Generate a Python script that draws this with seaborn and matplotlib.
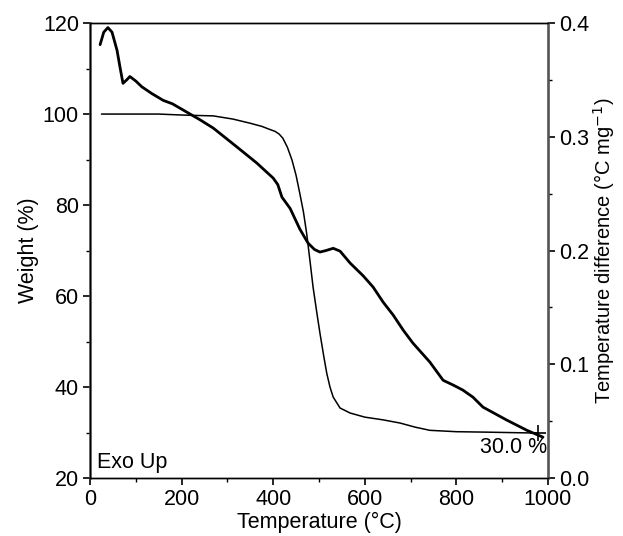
import matplotlib
matplotlib.use("Agg")
import matplotlib.pyplot as plt
import seaborn as sns
import pandas as pd
from matplotlib.ticker import MultipleLocator

# TGA weight curve (left axis)
tga_temp = [25, 60, 100, 150, 197, 230, 269, 312, 349, 375, 393, 404, 413, 421, 431,
            441, 450, 458, 466, 473, 480, 487, 495, 502, 510, 517, 524, 531, 546, 568,
            600, 640, 677, 710, 742, 800, 866, 920, 978]
tga_weight = [100, 100, 100, 100, 99.8, 99.7, 99.6, 98.9, 98.0, 97.3, 96.6, 96.2, 95.6,
              94.7, 92.7, 89.9, 86.5, 82.6, 78.5, 73.8, 68.0, 62.0, 56.5, 51.9, 47.0,
              43.0, 40.0, 37.8, 35.4, 34.3, 33.4, 32.8, 32.1, 31.2, 30.5, 30.2, 30.1,
              30.0, 29.9]

# DTA curve (right axis)
dta_temp = [22, 30, 39, 48, 59, 66, 72, 80, 87, 100, 113, 135, 160, 180, 210, 240, 269,
            321, 364, 400, 410, 419, 437, 458, 476, 490, 502, 515, 531, 546, 568, 596,
            618, 640, 662, 684, 705, 742, 771, 793, 814, 836, 858, 910, 954, 989]
dta_val = [0.381, 0.392, 0.396, 0.392, 0.376, 0.360, 0.347, 0.350, 0.353, 0.349, 0.344,
           0.338, 0.332, 0.329, 0.322, 0.315, 0.3077, 0.291, 0.277, 0.2637, 0.258,
           0.247, 0.237, 0.219, 0.2066, 0.201, 0.1987, 0.200, 0.202, 0.1995, 0.189,
           0.178, 0.168, 0.1547, 0.1433, 0.130, 0.1187, 0.102, 0.086, 0.0818, 0.0774,
           0.0712, 0.0624, 0.051, 0.042, 0.036]

x_ticks = [0, 200, 400, 600, 800, 1000]
y_left_ticks = [20, 40, 60, 80, 100, 120]
y_right_ticks = [0.0, 0.1, 0.2, 0.3, 0.4]

sns.set_style("ticks")
plt.rcParams['font.family'] = ['Liberation Sans', 'DejaVu Sans']
plt.rcParams['text.color'] = 'black'
plt.rcParams['axes.labelcolor'] = 'black'
plt.rcParams['xtick.color'] = 'black'
plt.rcParams['ytick.color'] = 'black'
FS = 15.5

fig = plt.figure(figsize=(6.23, 5.36), dpi=100)
ax = fig.add_axes([0.1445, 0.108, 0.7351, 0.849])
ax2 = ax.twinx()

tga = pd.DataFrame({"T": tga_temp, "W": tga_weight})
dta = pd.DataFrame({"T": dta_temp, "D": dta_val})

sns.lineplot(data=tga, x="T", y="W", ax=ax, color="black", linewidth=1.1)
sns.lineplot(data=dta, x="T", y="D", ax=ax2, color="black", linewidth=2.0)

ax.set_xlim(0, 1000)
ax.set_ylim(20, 120)
ax2.set_ylim(0, 0.4)
ax.set_xticks(x_ticks)
ax.set_yticks(y_left_ticks)
ax2.set_yticks(y_right_ticks)
ax2.set_yticklabels([f"{v:.1f}" for v in y_right_ticks])
ax.xaxis.set_minor_locator(MultipleLocator(100))
ax.yaxis.set_minor_locator(MultipleLocator(10))
ax2.yaxis.set_minor_locator(MultipleLocator(0.05))

for a in (ax, ax2):
    a.tick_params(which="major", direction="out", length=5, width=1.2, labelsize=FS,
                  color="black", labelcolor="black", pad=3)
    a.tick_params(which="minor", direction="out", length=3, width=1.0, color="black")
    for s in a.spines.values():
        s.set_visible(True)
        s.set_color("black")
        s.set_linewidth(1.0)
ax.spines["left"].set_color("#555555")
ax.spines["left"].set_linewidth(1.8)
ax2.spines["right"].set_color("#555555")
ax2.spines["right"].set_linewidth(1.8)

ax.set_xlabel("Temperature (\u00b0C)", fontsize=FS, labelpad=1, color="black")
ax.set_ylabel("Weight (%)", fontsize=FS, labelpad=3, color="black")
ax2.set_ylabel("Temperature difference (\u00b0C mg$^{-1}$)", fontsize=14.5, labelpad=1,
               color="black")

ax.plot([978], [29.9], marker="+", markersize=11, color="black", mew=1.2)
ax.text(998, 26.8, "30.0 %", ha="right", va="center", fontsize=FS, color="black")
ax.text(15, 23.5, "Exo Up", ha="left", va="center", fontsize=FS, color="black")

fig.savefig("out.png", dpi=100)
